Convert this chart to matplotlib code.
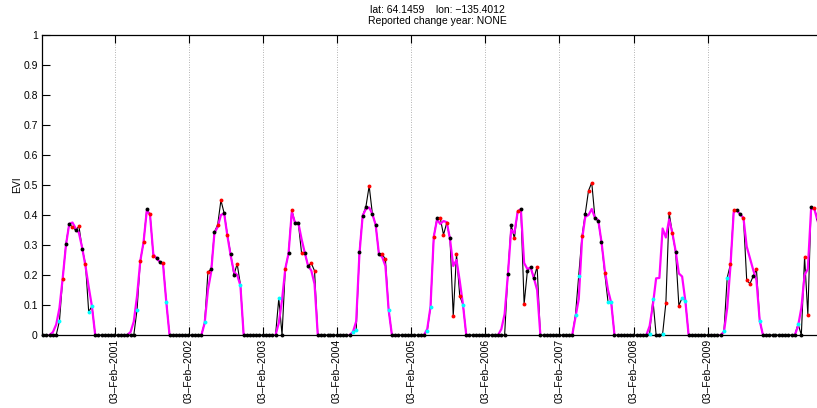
import datetime
import numpy as np
import matplotlib
matplotlib.use('Agg')
import matplotlib.pyplot as plt

nan = np.nan

# 16-day composite days of year
doy = list(range(1, 354, 16))

# EVI values per year (2000 starts at doy 49, 2010 stops at doy 209)
evi_2000 = [0, 0, 0, 0, 0, 0.047, 0.188, 0.304, 0.371, 0.359, 0.350, 0.362, 0.288, 0.237, 0.077, 0.096, 0, 0, 0, 0]
evi_2001 = [0, 0, 0, 0, 0, 0, 0, 0, 0, 0.084, 0.247, 0.309, 0.419, 0.403, 0.264, 0.258, 0.244, 0.241, 0.110, 0, 0, 0, 0]
evi_2002 = [0, 0, 0, 0, 0, 0, 0, 0.042, 0.210, 0.219, 0.344, 0.367, 0.449, 0.406, 0.334, 0.271, 0.201, 0.237, 0.168, 0, 0, 0, 0]
evi_2003 = [0, 0, 0, 0, 0, 0, 0, 0.122, 0, 0.221, 0.272, 0.417, 0.374, 0.374, 0.274, 0.274, 0.231, 0.239, 0.214, 0, 0, 0, 0]
evi_2004 = [0, 0, 0, 0, 0, 0, 0, 0.011, 0.016, 0.276, 0.398, 0.428, 0.497, 0.403, 0.367, 0.270, 0.270, 0.252, 0.083, 0, 0, 0, 0]
evi_2005 = [0, 0, 0, 0, 0, 0, 0, 0.014, 0.094, 0.327, 0.389, 0.390, 0.334, 0.374, 0.322, 0.063, 0.270, 0.130, 0.101, 0, 0, 0, 0]
evi_2006 = [0, 0, 0, 0, 0, 0, 0, 0, 0, 0.204, 0.367, 0.322, 0.413, 0.420, 0.103, 0.213, 0.227, 0.189, 0.228, 0, 0, 0, 0]
evi_2007 = [0, 0, 0, 0, 0, 0, 0, 0.068, 0.198, 0.330, 0.404, 0.481, 0.508, 0.389, 0.380, 0.310, 0.206, 0.111, 0.110, 0, 0, 0, 0]
evi_2008 = [0, 0, 0, 0, 0, 0, 0, 0.004, 0.119, 0, 0, 0.004, 0.107, 0.408, 0.339, 0.277, 0.098, 0.124, 0.113, 0, 0, 0, 0]
evi_2009 = [0, 0, 0, 0, 0, 0, 0, 0.013, 0.191, 0.236, 0.417, 0.418, 0.402, 0.391, 0.183, 0.171, 0.196, 0.219, 0.048, 0, 0, 0, 0]
evi_2010 = [0, 0, 0, 0, 0, 0, 0, 0.037, 0, 0.261, 0.067, 0.428, 0.422, 0.385]

# quality flag of each point: k = good, r = marginal, c = cloud/snow
flag_2000 = "kkkkk" + "crkkrkrkrcc" + "kkkk"
flag_2001 = "kkkkkkkkk" + "crrkrrkkrc" + "kkkk"
flag_2002 = "kkkkkkk" + "crkkrrkrkkrc" + "kkkk"
flag_2003 = "kkkkkkk" + "ck" + "rkrkkrkkrr" + "kkkk"
flag_2004 = "kkkkkkk" + "cckkkrkkkrrc" + "kkkk"
flag_2005 = "kkkkkkk" + "ccrkrrrkrrrc" + "kkkk"
flag_2006 = "kkkkkkkkk" + "kkrrkrkkkr" + "kkkk"
flag_2007 = "kkkkkkk" + "ccrkrrkkkrcc" + "kkkk"
flag_2008 = "kkkkkkk" + "cckkcrrrkrcc" + "kkkk"
flag_2009 = "kkkkkkk" + "ccrrkkrrrkrc" + "kkkk"
flag_2010 = "kkkkkkk" + "ckrrkrk"

# fitted curve (only during the growing season)
fit_2000 = [nan, nan, 0, 0.01, 0.035, 0.09, 0.19, 0.30, 0.37, 0.375, 0.355, 0.34, 0.29, 0.23, 0.16, 0.095, 0, nan, nan, nan]
fit_2001 = [nan]*6 + [0, 0.01, 0.045, 0.13, 0.247, 0.309, 0.415, 0.40, 0.27, 0.255, 0.244, 0.235, 0.11, 0] + [nan]*3
fit_2002 = [nan]*6 + [0, 0.04, 0.15, 0.21, 0.34, 0.36, 0.40, 0.405, 0.33, 0.265, 0.21, 0.20, 0.165, 0] + [nan]*3
fit_2003 = [nan]*6 + [0, 0.04, 0.117, 0.221, 0.272, 0.41, 0.374, 0.374, 0.32, 0.274, 0.231, 0.215, 0.17, 0] + [nan]*3
fit_2004 = [nan]*6 + [0, 0.01, 0.045, 0.27, 0.398, 0.42, 0.425, 0.403, 0.367, 0.27, 0.26, 0.23, 0.083, 0] + [nan]*3
fit_2005 = [nan]*6 + [0, 0.02, 0.094, 0.327, 0.385, 0.37, 0.38, 0.376, 0.32, 0.23, 0.25, 0.18, 0.101, 0] + [nan]*3
fit_2006 = [nan]*6 + [0, 0.02, 0.07, 0.20, 0.35, 0.34, 0.41, 0.42, 0.24, 0.22, 0.225, 0.19, 0.15, 0] + [nan]*3
fit_2007 = [nan]*6 + [0, 0.06, 0.12, 0.317, 0.394, 0.40, 0.42, 0.39, 0.383, 0.31, 0.217, 0.15, 0.107, 0] + [nan]*3
fit_2008 = [nan]*6 + [0, 0.03, 0.10, 0.189, 0.19, 0.355, 0.325, 0.385, 0.34, 0.28, 0.205, 0.195, 0.113, 0] + [nan]*3
fit_2009 = [nan]*6 + [0, 0.01, 0.09, 0.23, 0.41, 0.415, 0.402, 0.39, 0.295, 0.256, 0.217, 0.183, 0.048, 0] + [nan]*3
fit_2010 = [nan]*6 + [0, 0.03, 0.09, 0.20, 0.22, 0.42, 0.42, 0.38]

years = list(range(2000, 2011))
evi_all = [evi_2000, evi_2001, evi_2002, evi_2003, evi_2004, evi_2005,
           evi_2006, evi_2007, evi_2008, evi_2009, evi_2010]
flag_all = [flag_2000, flag_2001, flag_2002, flag_2003, flag_2004, flag_2005,
            flag_2006, flag_2007, flag_2008, flag_2009, flag_2010]
fit_all = [fit_2000, fit_2001, fit_2002, fit_2003, fit_2004, fit_2005,
           fit_2006, fit_2007, fit_2008, fit_2009, fit_2010]

tick_years = list(range(2001, 2010))
tick_labels = ['03\u2013Feb\u2013%d' % y for y in tick_years]

# build the time series
dates, evi, flags, fit = [], [], [], []
for y, vals, fl, ft in zip(years, evi_all, flag_all, fit_all):
    days = doy[3:3 + len(vals)] if y == 2000 else doy[:len(vals)]
    for d, v, f, m in zip(days, vals, fl, ft):
        dates.append(datetime.datetime(y, 1, 1) + datetime.timedelta(days=d - 1))
        evi.append(v)
        flags.append(f)
        fit.append(m)
dates = np.array(dates)
evi = np.array(evi)
flags = np.array(flags)
fit = np.array(fit)

plt.rcParams['font.family'] = ['Liberation Sans', 'DejaVu Sans']

fig = plt.figure(figsize=(8.17, 4.08), dpi=100)
# axes run past the right edge of the picture (cropped figure)
ax = fig.add_axes([42 / 817, 73 / 408, 790 / 817, 300 / 408])

ax.plot(dates, evi, color='k', lw=0.8, zorder=2)
ax.plot(dates, fit, color='#ff00ff', lw=1.6, zorder=3)
for f, c in [('k', 'k'), ('r', 'r'), ('c', '#00ffff')]:
    sel = flags == f
    ax.plot(dates[sel], evi[sel], 'o', color=c, ms=2.8, mec='none', zorder=4, clip_on=False)

ax.set_ylim(0, 1)
ax.set_yticks(np.arange(0, 1.01, 0.1))
ax.set_yticklabels(['0'] + ['%.1f' % v for v in np.arange(0.1, 0.95, 0.1)] + ['1'])
x0 = datetime.datetime(2000, 2, 12)
ax.set_xlim(x0, x0 + datetime.timedelta(days=3890))
ax.set_xticks([datetime.datetime(y, 2, 3) for y in tick_years])
ax.set_xticklabels(tick_labels, rotation=90)

ax.grid(axis='x', linestyle=(0, (1, 2)), color='0.6', lw=0.6)
ax.tick_params(direction='in', length=5.5, width=0.8, top=True, right=True,
               labelsize=7.5, pad=3, colors='k')
for s in ax.spines.values():
    s.set_linewidth(0.9)

ax.set_ylabel('EVI', fontsize=7.5, labelpad=1)
ax.set_title('lat: 64.1459    lon: \u2212135.4012\nReported change year: NONE',
             fontsize=7.5, pad=8, linespacing=1.15)

fig.savefig('out.png', dpi=100)
